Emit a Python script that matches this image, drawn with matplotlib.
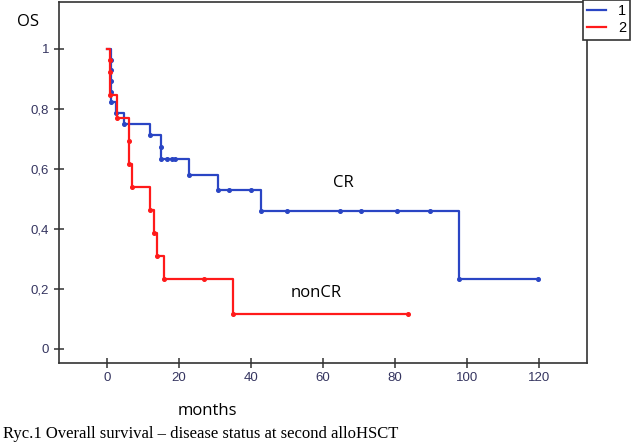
import matplotlib
matplotlib.use("Agg")
import matplotlib.pyplot as plt
from matplotlib.lines import Line2D

# Kaplan-Meier steps (months, OS)
cr_t = [0, 1.1, 2.5, 4.8, 12, 15, 15.1, 22.9, 30.9, 42.7, 97.8, 119.8]
cr_s = [1, 0.821, 0.785, 0.748, 0.712, 0.673, 0.632, 0.579, 0.529, 0.46, 0.233, 0.233]
cr_mark_t = [1.1, 1.1, 1.1, 1.1, 1.1, 2.5, 4.8, 12, 15, 15.1, 16.8, 18, 19, 22.9, 30.9, 34, 40,
             42.7, 50, 64.7, 70.7, 80.7, 89.7, 97.8, 119.8]
cr_mark_s = [0.964, 0.929, 0.893, 0.857, 0.821, 0.785, 0.748, 0.712, 0.673, 0.632, 0.632, 0.632,
             0.632, 0.579, 0.529, 0.529, 0.529, 0.46, 0.46, 0.46, 0.46, 0.46, 0.46, 0.233, 0.233]

non_t = [0, 1.0, 2.9, 6.2, 6.9, 12.1, 13, 14, 16, 35, 83.7]
non_s = [1, 0.846, 0.769, 0.615, 0.538, 0.462, 0.385, 0.308, 0.231, 0.115, 0.115]
non_mark_t = [1.0, 1.0, 1.0, 2.9, 6.2, 6.2, 6.9, 12.1, 13, 14, 16, 27, 35, 83.7]
non_mark_s = [0.962, 0.923, 0.846, 0.769, 0.692, 0.615, 0.538, 0.462, 0.385, 0.308, 0.231, 0.231,
              0.115, 0.115]

xticks = [0, 20, 40, 60, 80, 100, 120]
yticks = [0, 0.2, 0.4, 0.6, 0.8, 1]
ylabels = ["0", "0,2", "0,4", "0,6", "0,8", "1"]

blue = "#2a45c4"
red = "#ff1a1a"
axcol = "#333333"
tickcol = "#353560"

fig = plt.figure(figsize=(6.31, 4.47), dpi=100)
ax = fig.add_axes([0.0935, 0.189, 0.8365, 0.8065])

ax.step(cr_t, cr_s, where="post", color=blue, lw=1.6)
ax.plot(cr_mark_t, cr_mark_s, "o", color=blue, ms=2.6, ls="none")
ax.step(non_t, non_s, where="post", color=red, lw=1.6)
ax.plot(non_mark_t, non_mark_s, "o", color=red, ms=2.6, ls="none")

ax.set_xlim(-13.3, 133.3)
ax.set_ylim(-0.046, 1.156)
ax.set_xticks(xticks)
ax.set_xticklabels([str(v) for v in xticks])
ax.set_yticks(yticks)
ax.set_yticklabels(ylabels)
ax.tick_params(direction="inout", length=7, width=1.1, color=axcol,
               labelcolor=tickcol, labelsize=9.5)
for lab in ax.get_xticklabels() + ax.get_yticklabels():
    lab.set_family("Liberation Sans")
for s in ax.spines.values():
    s.set_color(axcol)
    s.set_linewidth(1.2)

ax.text(65.8, 0.552, "CR", fontsize=12, family="Open Sans", ha="center", va="center")
ax.text(58.2, 0.187, "nonCR", fontsize=12, family="Open Sans", ha="center", va="center")

fig.text(28 / 631, 1 - 22 / 447, "OS", fontsize=12, family="Open Sans", ha="center", va="center")
fig.text(207 / 631, 1 - 411 / 447, "months", fontsize=12, family="Open Sans",
         ha="center", va="center")
fig.text(3 / 631, 1 - 434 / 447, "Ryc.1 Overall survival \u2013 disease status at second alloHSCT",
         fontsize=12, family="Liberation Serif", ha="left", va="center")

handles = [Line2D([], [], color=blue, lw=1.6), Line2D([], [], color=red, lw=1.6)]
leg = fig.legend(handles, ["1", "2"], loc="upper right", bbox_to_anchor=(0.999, 1.0),
                 borderaxespad=0, fancybox=False, framealpha=1, edgecolor=axcol,
                 handlelength=1.3, handletextpad=0.8, borderpad=0.3, labelspacing=0.2,
                 prop={"family": "Liberation Sans", "size": 10.5})
leg.get_frame().set_linewidth(1.2)

fig.savefig("out.png", dpi=100)
